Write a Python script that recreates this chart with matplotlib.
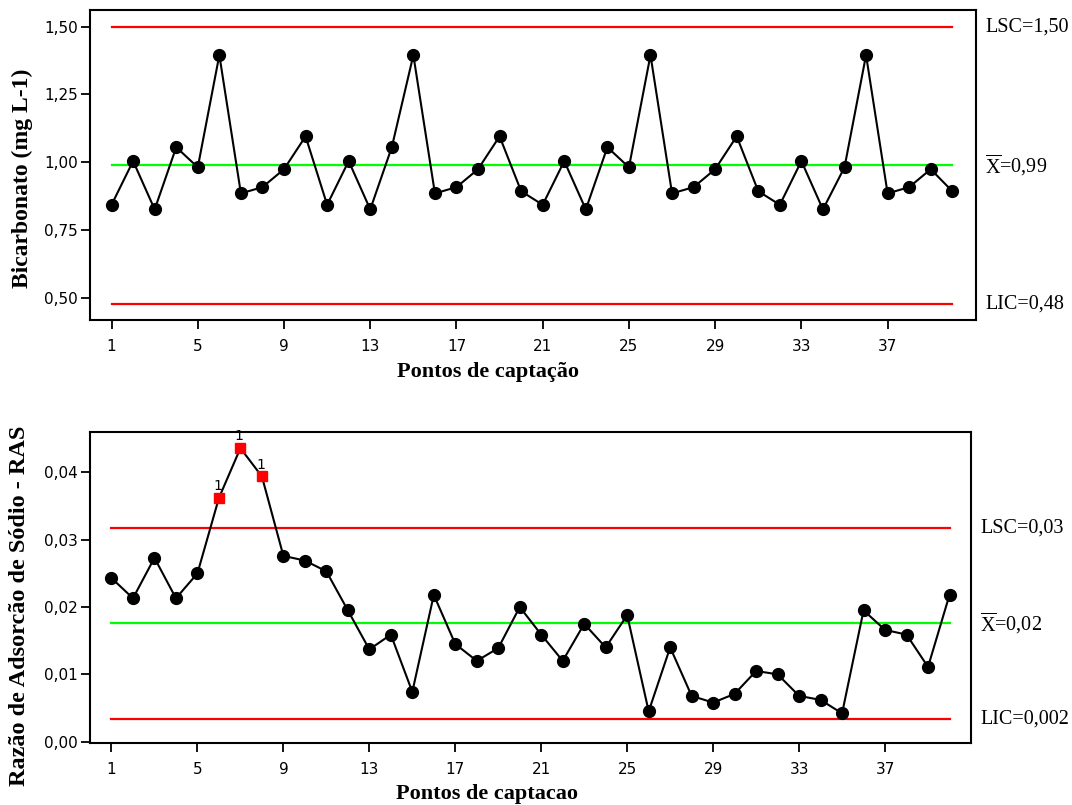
import matplotlib
matplotlib.use("Agg")
import matplotlib.pyplot as plt
import numpy as np

plt.rcParams['mathtext.fontset'] = 'custom'
plt.rcParams['mathtext.rm'] = 'Liberation Serif'

# ---------------- data ----------------
points = list(range(1, 41))
xticks = [1, 5, 9, 13, 17, 21, 25, 29, 33, 37]

bicarbonato = [0.844, 1.005, 0.827, 1.056, 0.982, 1.395, 0.886, 0.909, 0.975, 1.096,
               0.844, 1.005, 0.827, 1.056, 1.395, 0.886, 0.909, 0.975, 1.096, 0.894,
               0.844, 1.005, 0.827, 1.056, 0.982, 1.395, 0.886, 0.909, 0.975, 1.096,
               0.894, 0.844, 1.005, 0.827, 0.982, 1.395, 0.886, 0.909, 0.975, 0.894]
bic_lsc, bic_mean, bic_lic = 1.50, 0.99, 0.48
bic_yticks = [0.50, 0.75, 1.00, 1.25, 1.50]
bic_ytick_labels = ['0,50', '0,75', '1,00', '1,25', '1,50']
bic_limit_labels = ['LSC=1,50', r'$\overline{\mathrm{X}}$=0,99', 'LIC=0,48']

ras = [0.0243, 0.0213, 0.0273, 0.0213, 0.0250, 0.0362, 0.0436, 0.0394, 0.0276, 0.0269,
       0.0253, 0.0195, 0.0137, 0.0159, 0.0074, 0.0218, 0.0145, 0.0120, 0.0139, 0.0200,
       0.0159, 0.0120, 0.0175, 0.0140, 0.0188, 0.0045, 0.0140, 0.0068, 0.0058, 0.0071,
       0.0105, 0.0100, 0.0068, 0.0062, 0.0042, 0.0195, 0.0166, 0.0159, 0.0111, 0.0218]
ras_out = [6, 7, 8]   # points flagged by test 1
ras_lsc, ras_mean, ras_lic = 0.0317, 0.0176, 0.0033
ras_yticks = [0.00, 0.01, 0.02, 0.03, 0.04]
ras_ytick_labels = ['0,00', '0,01', '0,02', '0,03', '0,04']
ras_limit_labels = ['LSC=0,03', r'$\overline{\mathrm{X}}$=0,02', 'LIC=0,002']

# ---------------- figure ----------------
fig = plt.figure(figsize=(10.72, 8.05), dpi=100)
W, H = 1072, 805

def axes_px(l, t, r, b):
    return fig.add_axes([l / W, 1 - b / H, (r - l) / W, (b - t) / H])

ax1 = axes_px(90, 10, 976, 320)
ax2 = axes_px(90, 432, 971, 743)

serif = 'Liberation Serif'

def style(ax, yticks, ylabels):
    for s in ax.spines.values():
        s.set_linewidth(1.5)
    ax.set_xticks(xticks)
    ax.set_xticklabels([str(t) for t in xticks], fontsize=11, family='DejaVu Sans')
    ax.set_yticks(yticks)
    ax.set_yticklabels(ylabels, fontsize=11, family='DejaVu Sans')
    ax.tick_params(axis='both', length=6.5, width=1.3, direction='out')
    ax.tick_params(axis='x', pad=7)
    ax.tick_params(axis='y', pad=2)

def limits(ax, lsc, mean, lic):
    ax.plot([points[0], points[-1]], [lsc, lsc], color='#ff0000', lw=1.6, zorder=1)
    ax.plot([points[0], points[-1]], [lic, lic], color='#ff0000', lw=1.6, zorder=1)
    ax.plot([points[0], points[-1]], [mean, mean], color='#00ff00', lw=1.6, zorder=1)

# ---- top chart ----
limits(ax1, bic_lsc, bic_mean, bic_lic)
ax1.plot(points, bicarbonato, color='black', lw=1.5, marker='o', markersize=8.5, zorder=3)
ax1.set_xlim(0, 41.1)
ax1.set_ylim(0.42, 1.561)
style(ax1, bic_yticks, bic_ytick_labels)
for val, lab in zip([bic_lsc, bic_mean, bic_lic], bic_limit_labels):
    ax1.annotate(lab, xy=(1, val), xycoords=('axes fraction', 'data'),
                 xytext=(6.5, 0), textcoords='offset points',
                 ha='left', va='center', fontsize=14.5, family=serif,
                 annotation_clip=False)

# ---- bottom chart ----
limits(ax2, ras_lsc, ras_mean, ras_lic)
ax2.plot(points, ras, color='black', lw=1.5, zorder=2)
normal_x = [p for p in points if p not in ras_out]
normal_y = [v for p, v in zip(points, ras) if p not in ras_out]
out_x = [p for p in points if p in ras_out]
out_y = [v for p, v in zip(points, ras) if p in ras_out]
ax2.plot(normal_x, normal_y, ls='none', color='black', marker='o', markersize=8.5, zorder=3)
ax2.plot(out_x, out_y, ls='none', color='#ff0000', marker='s', markersize=7, zorder=3)
for x, y in zip(out_x, out_y):
    ax2.annotate('1', xy=(x, y), xytext=(-1, 3.5), textcoords='offset points',
                 ha='center', va='bottom', fontsize=10, family='DejaVu Sans',
                 annotation_clip=False)
ax2.set_xlim(0, 41.0)
ax2.set_ylim(-0.0002, 0.046)
style(ax2, ras_yticks, ras_ytick_labels)
for val, lab in zip([ras_lsc, ras_mean, ras_lic], ras_limit_labels):
    ax2.annotate(lab, xy=(1, val), xycoords=('axes fraction', 'data'),
                 xytext=(6.5, 0), textcoords='offset points',
                 ha='left', va='center', fontsize=14.5, family=serif,
                 annotation_clip=False)

# ---- axis labels ----
fig.text(488 / W, 1 - 372 / H, 'Pontos de captação', ha='center', va='center',
         fontsize=16, fontweight='bold', family=serif)
fig.text(487 / W, 1 - 794 / H, 'Pontos de captacao', ha='center', va='center',
         fontsize=16, fontweight='bold', family=serif)
fig.text(22 / W, 1 - 178 / H, 'Bicarbonato (mg L-1)', ha='center', va='center',
         rotation=90, fontsize=17, fontweight='bold', family=serif)
fig.text(20 / W, 1 - 606 / H, 'Razão de Adsorcão de Sódio - RAS', ha='center', va='center',
         rotation=90, fontsize=17.5, fontweight='bold', family=serif)

fig.savefig('out.png', dpi=100)
